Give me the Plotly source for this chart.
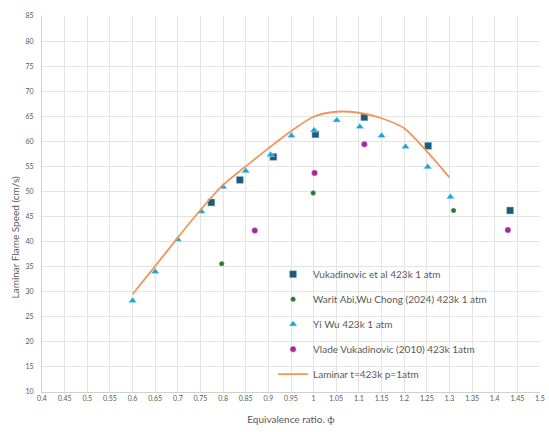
import plotly.graph_objects as go

# Vukadinovic et al 423k 1 atm
vuk_phi = [0.774, 0.837, 0.911, 1.004, 1.112, 1.253, 1.434]
vuk_sl = [47.8, 52.3, 56.9, 61.4, 64.8, 59.1, 46.2]

# Warit Abi, Wu Chong (2024) 423k 1 atm
warit_phi = [0.797, 0.999, 1.309]
warit_sl = [35.6, 49.7, 46.2]

# Yi Wu 423k 1 atm
wu_phi = [0.600, 0.650, 0.700, 0.752, 0.800, 0.850, 0.905, 0.951, 1.001,
          1.051, 1.102, 1.150, 1.203, 1.252, 1.302]
wu_sl = [28.2, 34.0, 40.4, 46.0, 50.9, 54.1, 57.3, 61.1, 62.2,
         64.2, 62.9, 61.1, 58.9, 54.9, 48.9]

# Vlade Vukadinovic (2010) 423k 1atm
vlade_phi = [0.870, 1.002, 1.112, 1.429]
vlade_sl = [42.2, 53.7, 59.4, 42.3]

# Laminar t=423k p=1atm (computed curve)
lam_phi = [0.60, 0.65, 0.70, 0.75, 0.80, 0.85, 0.90, 0.95, 1.00,
           1.05, 1.10, 1.15, 1.20, 1.25, 1.30]
lam_sl = [29.5, 35.1, 40.8, 46.3, 51.3, 55.0, 58.6, 62.0, 64.9,
          65.9, 65.7, 64.6, 62.6, 58.0, 52.8]

x_ticks = [round(0.4 + 0.05 * i, 2) for i in range(23)]
x_labels = [f"{v:g}" for v in x_ticks]
y_ticks = list(range(10, 90, 5))

fig = go.Figure()

fig.add_trace(go.Scatter(
    x=vuk_phi, y=vuk_sl, mode="markers", name="Vukadinovic et al 423k 1 atm",
    legendgroup="a",
    marker=dict(symbol="square", size=7, color="#1d5a78",
                line=dict(width=0.5, color="#9fc6d8")),
))
fig.add_trace(go.Scatter(
    x=warit_phi, y=warit_sl, mode="markers",
    name="Warit Abi,Wu Chong (2024) 423k 1 atm", legendgroup="b",
    marker=dict(symbol="circle", size=5, color="#1f7a2e",
                line=dict(width=0.5, color="#a8d5b0")),
))
fig.add_trace(go.Scatter(
    x=wu_phi, y=wu_sl, mode="markers", name="Yi Wu 423k 1 atm",
    legendgroup="c",
    marker=dict(symbol="triangle-up", size=7, color="#1ba1dc",
                line=dict(width=0.5, color="#bfe3f4")),
))
fig.add_trace(go.Scatter(
    x=vlade_phi, y=vlade_sl, mode="markers",
    name="Vlade Vukadinovic (2010) 423k 1atm", legendgroup="d",
    marker=dict(symbol="circle", size=6, color="#a3299a",
                line=dict(width=0.5, color="#e0b3dc")),
))
fig.add_trace(go.Scatter(
    x=lam_phi, y=lam_sl, mode="lines", name="Laminar t=423k p=1atm",
    legendgroup="e",
    line=dict(color="#f0965c", width=1.8, shape="spline", smoothing=0.8),
))

fig.update_layout(
    width=549, height=432,
    margin=dict(l=42, r=4, t=16, b=40),
    paper_bgcolor="white", plot_bgcolor="white",
    font=dict(family="Lato, Open Sans, sans-serif", color="#595959"),
    showlegend=True,
    legend=dict(
        x=0.464, y=0.352, xanchor="left", yanchor="top",
        bgcolor="rgba(0,0,0,0)", font=dict(size=10, color="#595959"),
        tracegroupgap=6, itemwidth=30,
    ),
    annotations=[dict(
        text="Laminar Flame Speed (cm/s)", xref="paper", yref="paper",
        x=-0.055, y=0.41, xanchor="center", yanchor="middle",
        textangle=-90, showarrow=False,
        font=dict(size=10, color="#595959"),
    )],
)

fig.update_xaxes(
    range=[0.4, 1.5], tickvals=x_ticks, ticktext=x_labels,
    showgrid=True, gridcolor="#e4e4e4", gridwidth=1,
    showline=True, linecolor="#d0d0d0", linewidth=1,
    zeroline=False, ticks="", tickfont=dict(size=7, color="#595959"),
    ticklabeloverflow="allow",
    title=dict(text="Equivalence ratio. ϕ", font=dict(size=10, color="#595959"),
               standoff=14),
)
fig.update_yaxes(
    range=[10, 85], tickvals=y_ticks,
    showgrid=True, gridcolor="#e4e4e4", gridwidth=1,
    showline=True, linecolor="#d0d0d0", linewidth=1,
    zeroline=False, ticks="", tickfont=dict(size=7, color="#595959"),
    ticklabelstandoff=6,
)

fig.write_html("out.html")
